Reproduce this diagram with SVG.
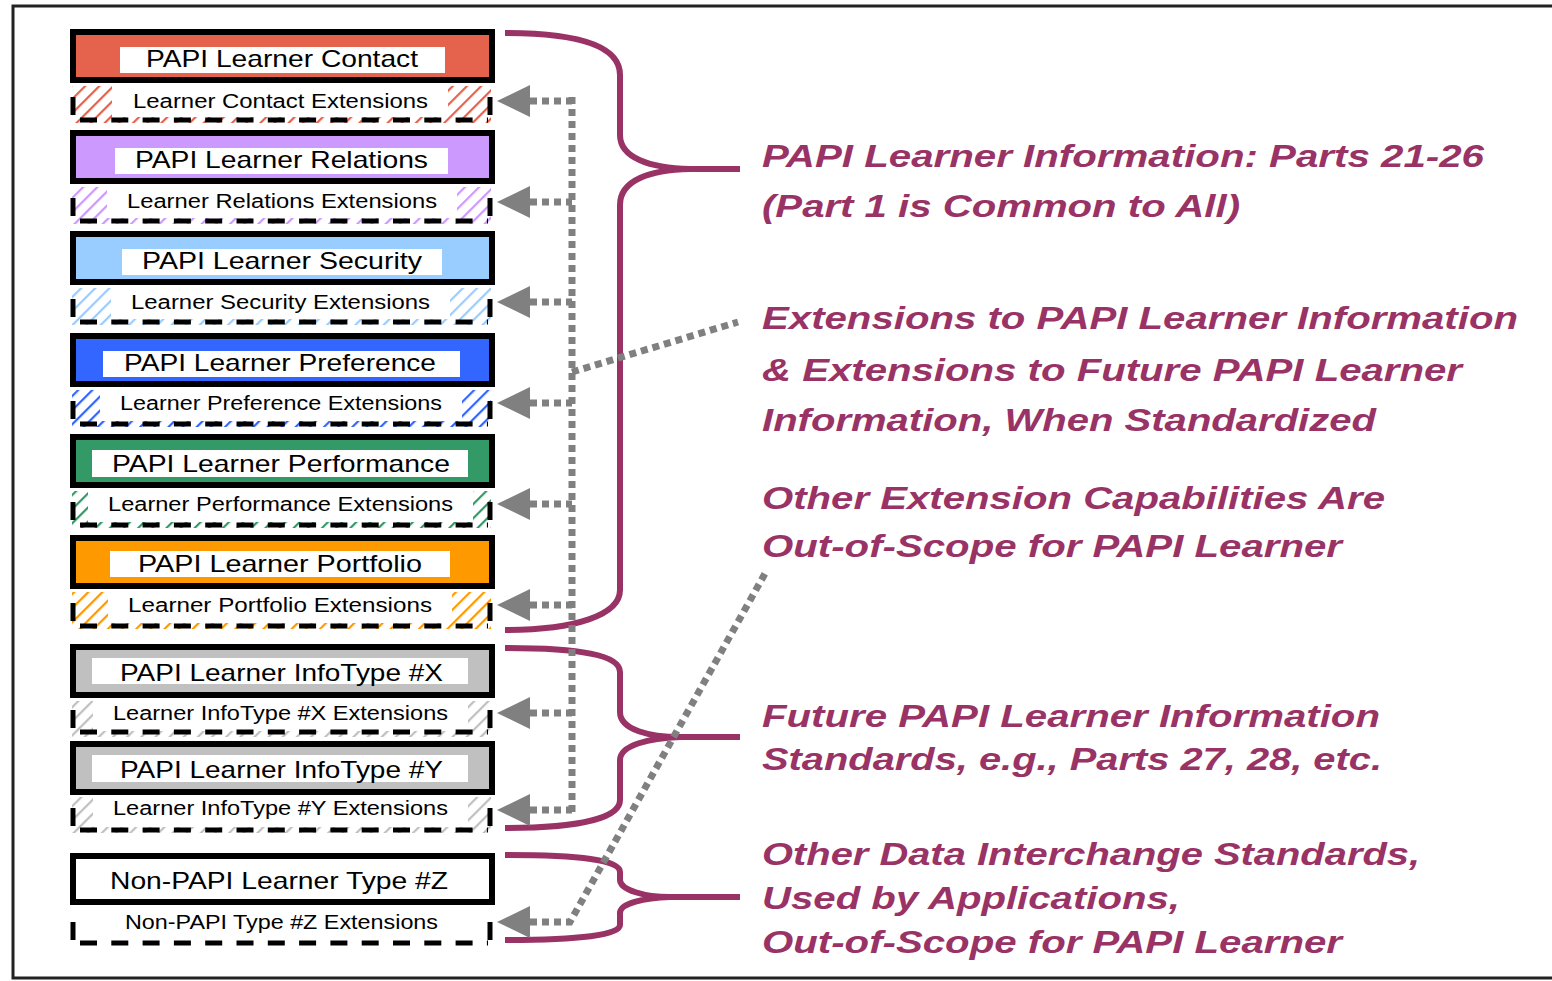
<svg xmlns="http://www.w3.org/2000/svg" width="1552" height="981" viewBox="0 0 1552 981">
<style>
.main{stroke:#000;stroke-width:6}
.lbl{fill:#fff}
.t{font-family:"Liberation Sans",Arial,sans-serif;font-size:24px;fill:#000}
.te{font-family:"Liberation Sans",Arial,sans-serif;font-size:20px;fill:#000}
.dash{stroke:#000;stroke-width:5;fill:none}
.dh{stroke-dasharray:17 14.3}
.brace{stroke:#993366;stroke-width:6;fill:none}
.dot{stroke:#808080;stroke-width:7;fill:none;stroke-dasharray:7 5}
.head{fill:#808080}
.note{font-family:"Liberation Sans",Arial,sans-serif;font-size:31px;font-weight:bold;font-style:italic;fill:#993366}
</style>
<defs>
<pattern id="hRed" patternUnits="userSpaceOnUse" width="10" height="10" patternTransform="rotate(45)"><rect width="10" height="10" fill="#fff"/><rect width="2.2" height="10" fill="#E5624C"/></pattern>
<pattern id="hPur" patternUnits="userSpaceOnUse" width="10" height="10" patternTransform="rotate(45)"><rect width="10" height="10" fill="#fff"/><rect width="2.2" height="10" fill="#CC99FF"/></pattern>
<pattern id="hLbl" patternUnits="userSpaceOnUse" width="10" height="10" patternTransform="rotate(45)"><rect width="10" height="10" fill="#fff"/><rect width="2.2" height="10" fill="#99CCFF"/></pattern>
<pattern id="hBlu" patternUnits="userSpaceOnUse" width="10" height="10" patternTransform="rotate(45)"><rect width="10" height="10" fill="#fff"/><rect width="2.2" height="10" fill="#3366FF"/></pattern>
<pattern id="hGrn" patternUnits="userSpaceOnUse" width="10" height="10" patternTransform="rotate(45)"><rect width="10" height="10" fill="#fff"/><rect width="2.2" height="10" fill="#339966"/></pattern>
<pattern id="hOrg" patternUnits="userSpaceOnUse" width="10" height="10" patternTransform="rotate(45)"><rect width="10" height="10" fill="#fff"/><rect width="2.2" height="10" fill="#FF9900"/></pattern>
<pattern id="hGry" patternUnits="userSpaceOnUse" width="10" height="10" patternTransform="rotate(45)"><rect width="10" height="10" fill="#fff"/><rect width="2.2" height="10" fill="#C0C0C0"/></pattern>
</defs>
<rect width="1552" height="981" fill="#fff"/>
<path d="M1552,6 H13 V978 H1552" fill="none" stroke="#222" stroke-width="3"/>

<!-- Row 1 -->
<g id="contact">
<rect class="main" x="73" y="32" width="419" height="48" fill="#E5624C"/>
<rect class="lbl" x="120" y="47" width="325" height="26"/>
<text class="t" x="146" y="67" textLength="272" lengthAdjust="spacingAndGlyphs">PAPI Learner Contact</text>
</g>
<g id="contact-ext">
<rect x="72" y="86" width="419" height="37" fill="url(#hRed)"/>
<rect class="lbl" x="112" y="86" width="336" height="31"/>
<path class="dash" d="M73,97 V115 M490,97 V115"/>
<path class="dash dh" d="M80,120 H488"/>
<text class="te" x="133" y="108" textLength="295" lengthAdjust="spacingAndGlyphs">Learner Contact Extensions</text>
</g>

<!-- Row 2 -->
<g id="relations">
<rect class="main" x="73" y="133" width="419" height="48" fill="#CC99FF"/>
<rect class="lbl" x="115" y="148" width="333" height="26"/>
<text class="t" x="135" y="168" textLength="293" lengthAdjust="spacingAndGlyphs">PAPI Learner Relations</text>
</g>
<g id="relations-ext">
<rect x="72" y="187" width="419" height="37" fill="url(#hPur)"/>
<rect class="lbl" x="107" y="187" width="350" height="31"/>
<path class="dash" d="M73,198 V216 M490,198 V216"/>
<path class="dash dh" d="M80,221 H488"/>
<text class="te" x="127" y="208" textLength="310" lengthAdjust="spacingAndGlyphs">Learner Relations Extensions</text>
</g>

<!-- Row 3 -->
<g id="security">
<rect class="main" x="73" y="234" width="419" height="48" fill="#99CCFF"/>
<rect class="lbl" x="122" y="249" width="320" height="26"/>
<text class="t" x="142" y="269" textLength="280" lengthAdjust="spacingAndGlyphs">PAPI Learner Security</text>
</g>
<g id="security-ext">
<rect x="72" y="288" width="419" height="37" fill="url(#hLbl)"/>
<rect class="lbl" x="111" y="288" width="339" height="31"/>
<path class="dash" d="M73,299 V317 M490,299 V317"/>
<path class="dash dh" d="M80,322 H488"/>
<text class="te" x="131" y="309" textLength="299" lengthAdjust="spacingAndGlyphs">Learner Security Extensions</text>
</g>

<!-- Row 4 -->
<g id="preference">
<rect class="main" x="73" y="336" width="419" height="48" fill="#3366FF"/>
<rect class="lbl" x="103" y="351" width="357" height="26"/>
<text class="t" x="124" y="371" textLength="312" lengthAdjust="spacingAndGlyphs">PAPI Learner Preference</text>
</g>
<g id="preference-ext">
<rect x="72" y="390" width="419" height="37" fill="url(#hBlu)"/>
<rect class="lbl" x="100" y="390" width="362" height="31"/>
<path class="dash" d="M73,401 V419 M490,401 V419"/>
<path class="dash dh" d="M80,424 H488"/>
<text class="te" x="120" y="410" textLength="322" lengthAdjust="spacingAndGlyphs">Learner Preference Extensions</text>
</g>

<!-- Row 5 -->
<g id="performance">
<rect class="main" x="73" y="437" width="419" height="48" fill="#339966"/>
<rect class="lbl" x="92" y="450" width="376" height="27"/>
<text class="t" x="112" y="472" textLength="338" lengthAdjust="spacingAndGlyphs">PAPI Learner Performance</text>
</g>
<g id="performance-ext">
<rect x="72" y="491" width="419" height="37" fill="url(#hGrn)"/>
<rect class="lbl" x="88" y="491" width="385" height="31"/>
<path class="dash" d="M73,502 V520 M490,502 V520"/>
<path class="dash dh" d="M80,525 H488"/>
<text class="te" x="108" y="511" textLength="345" lengthAdjust="spacingAndGlyphs">Learner Performance Extensions</text>
</g>

<!-- Row 6 -->
<g id="portfolio">
<rect class="main" x="73" y="538" width="419" height="48" fill="#FF9900"/>
<rect class="lbl" x="110" y="551" width="340" height="26"/>
<text class="t" x="138" y="572" textLength="284" lengthAdjust="spacingAndGlyphs">PAPI Learner Portfolio</text>
</g>
<g id="portfolio-ext">
<rect x="72" y="592" width="419" height="37" fill="url(#hOrg)"/>
<rect class="lbl" x="108" y="592" width="344" height="31"/>
<path class="dash" d="M73,603 V621 M490,603 V621"/>
<path class="dash dh" d="M80,626 H488"/>
<text class="te" x="128" y="612" textLength="304" lengthAdjust="spacingAndGlyphs">Learner Portfolio Extensions</text>
</g>

<!-- Row 7 -->
<g id="infotype-x">
<rect class="main" x="73" y="647" width="419" height="48" fill="#C0C0C0"/>
<rect class="lbl" x="92" y="658" width="376" height="26"/>
<text class="t" x="120" y="681" textLength="323" lengthAdjust="spacingAndGlyphs">PAPI Learner InfoType #X</text>
</g>
<g id="infotype-x-ext">
<rect x="72" y="701" width="419" height="36" fill="url(#hGry)"/>
<rect class="lbl" x="93" y="701" width="375" height="30"/>
<path class="dash" d="M73,710 V728 M490,710 V728"/>
<path class="dash dh" d="M80,732 H488"/>
<text class="te" x="113" y="720" textLength="335" lengthAdjust="spacingAndGlyphs">Learner InfoType #X Extensions</text>
</g>

<!-- Row 8 -->
<g id="infotype-y">
<rect class="main" x="73" y="744" width="419" height="48" fill="#C0C0C0"/>
<rect class="lbl" x="92" y="755" width="376" height="27"/>
<text class="t" x="120" y="778" textLength="323" lengthAdjust="spacingAndGlyphs">PAPI Learner InfoType #Y</text>
</g>
<g id="infotype-y-ext">
<rect x="72" y="797" width="419" height="36" fill="url(#hGry)"/>
<rect class="lbl" x="93" y="797" width="375" height="30"/>
<path class="dash" d="M73,808 V826 M490,808 V826"/>
<path class="dash dh" d="M80,830 H488"/>
<text class="te" x="113" y="815" textLength="335" lengthAdjust="spacingAndGlyphs">Learner InfoType #Y Extensions</text>
</g>

<!-- Row 9 -->
<g id="non-papi">
<rect class="main" x="73" y="856" width="419" height="46" fill="#fff"/>
<text class="t" x="110" y="889" textLength="338" lengthAdjust="spacingAndGlyphs">Non-PAPI Learner Type #Z</text>
</g>
<g id="non-papi-ext">
<path class="dash" d="M73,922 V940 M490,922 V940"/>
<path class="dash dh" d="M80,943 H488"/>
<text class="te" x="125" y="929" textLength="313" lengthAdjust="spacingAndGlyphs">Non-PAPI Type #Z Extensions</text>
</g>

<!-- Connectors -->
<g id="connectors">
<path class="brace" d="M505,33 C575,33 620,45 620,75 V135 C620,158 650,168 690,169 H740 M690,169 C650,170 620,180 620,205 V590 C620,615 575,630 505,630"/>
<path class="brace" d="M505,648 C580,648 620,655 620,672 V712 C620,730 650,737 680,737 H740 M680,737 C650,738 620,745 620,760 V800 C620,818 580,828 505,828"/>
<path class="brace" d="M505,855 C580,855 620,860 620,872 V880 C620,890 645,897 670,897 H740 M670,897 C645,898 620,903 620,913 V925 C620,935 580,940 505,940"/>

<path class="dot" d="M572,97 V813"/>
<path class="dot" d="M530,101 H572 M530,202 H572 M530,302 H572 M530,403 H572 M530,504 H572 M530,605 H572 M530,713 H572 M530,810 H572"/>
<path class="dot" d="M572,372 L738,322"/>
<path class="dot" d="M530,922 H570 L767,570"/>
<g class="head">
<polygon points="497,101 530,85 530,117"/>
<polygon points="497,202 530,186 530,218"/>
<polygon points="497,302 530,286 530,318"/>
<polygon points="497,403 530,387 530,419"/>
<polygon points="497,504 530,488 530,520"/>
<polygon points="497,605 530,589 530,621"/>
<polygon points="497,713 530,697 530,729"/>
<polygon points="497,810 530,794 530,826"/>
<polygon points="497,922 530,906 530,938"/>
</g>
</g>

<g id="notes">
<text class="note" x="762" y="167" textLength="722" lengthAdjust="spacingAndGlyphs">PAPI Learner Information: Parts 21-26</text>
<text class="note" x="762" y="217" textLength="478" lengthAdjust="spacingAndGlyphs">(Part 1 is Common to All)</text>
<text class="note" x="762" y="329" textLength="756" lengthAdjust="spacingAndGlyphs">Extensions to PAPI Learner Information</text>
<text class="note" x="762" y="381" textLength="700" lengthAdjust="spacingAndGlyphs">&amp; Extensions to Future PAPI Learner</text>
<text class="note" x="762" y="431" textLength="614" lengthAdjust="spacingAndGlyphs">Information, When Standardized</text>
<text class="note" x="762" y="509" textLength="623" lengthAdjust="spacingAndGlyphs">Other Extension Capabilities Are</text>
<text class="note" x="762" y="557" textLength="580" lengthAdjust="spacingAndGlyphs">Out-of-Scope for PAPI Learner</text>
<text class="note" x="762" y="727" textLength="618" lengthAdjust="spacingAndGlyphs">Future PAPI Learner Information</text>
<text class="note" x="762" y="770" textLength="620" lengthAdjust="spacingAndGlyphs">Standards, e.g., Parts 27, 28, etc.</text>
<text class="note" x="762" y="865" textLength="658" lengthAdjust="spacingAndGlyphs">Other Data Interchange Standards,</text>
<text class="note" x="762" y="909" textLength="418" lengthAdjust="spacingAndGlyphs">Used by Applications,</text>
<text class="note" x="762" y="953" textLength="580" lengthAdjust="spacingAndGlyphs">Out-of-Scope for PAPI Learner</text>
</g>
</svg>
